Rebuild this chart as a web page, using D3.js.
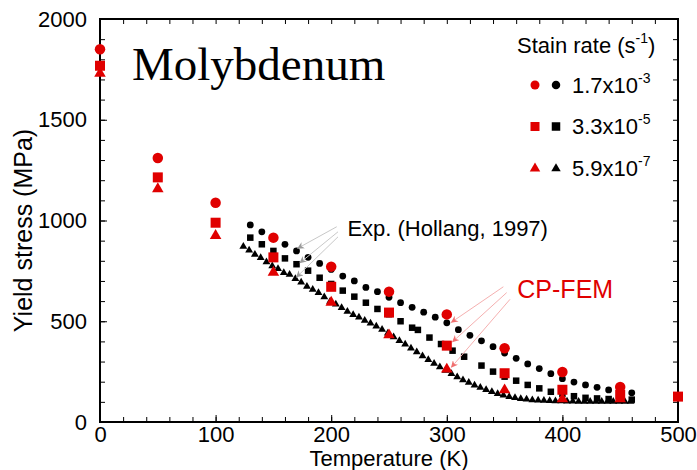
<!DOCTYPE html>
<html>
<head>
<meta charset="utf-8">
<script src="https://cdn.jsdelivr.net/npm/d3@7/dist/d3.min.js"></script>
<style>
  html, body { margin: 0; padding: 0; background: #fff; }
  svg { display: block; font-family: "Liberation Sans", Arial, sans-serif; }
</style>
</head>
<body>
<svg id="chart" width="697" height="470"></svg>
<script>
// ---- Data -------------------------------------------------------------
// CP-FEM simulation (red), temperatures in K, yield stress in MPa
const simTemps   = [0, 50, 100, 150, 200, 250, 300, 350, 400, 450, 500];
const simCircle  = [1850, 1310, 1088, 915, 771, 647, 534, 366, 248, 174, null];
const simSquare  = [1768, 1214, 989, 817, 671, 543, 379, 242, 160, 135, 126];
const simTri     = [1733, 1160, 928, 746, 597, 435, 265, 162, 118, 118, null];

// Experiments (black), strain rate 1.7e-3
const expCircleT = [130, 140, 150, 160, 170, 180, 190, 200, 210, 220, 230, 240, 250, 260, 270, 280, 290, 300,
                    310, 320, 330, 340, 350, 360, 370, 380, 390, 400, 410, 420, 430, 440, 450, 460];
const expCircleV = [978, 944, 912, 882, 849, 817, 787, 757, 724, 700, 668, 647, 619, 592, 569, 545, 520, 492,
                    458, 430, 403, 374, 342, 316, 288, 265, 240, 215, 198, 184, 172, 159, 152, 145];

// Experiments, strain rate 3.3e-5
const expSquareT = [130, 140, 150, 160, 170, 180, 190, 200, 210, 220, 230, 240, 250, 260, 270, 275, 285, 295,
                    305, 315, 330, 340, 350, 360, 370, 380, 390, 400, 410, 420, 430, 440, 450, 460];
const expSquareV = [915, 882, 849, 812, 783, 751, 716, 685, 652, 622, 592, 561, 535, 500, 468, 457, 419, 387,
                    354, 324, 280, 250, 225, 205, 184, 167, 150, 140, 128, 120, 117, 114, 112, 111];

// Experiments, strain rate 5.9e-7
const expTriT = [124, 129, 134, 139, 144, 149, 154, 159, 164, 169, 174, 179, 184, 189, 194, 199, 204, 209, 214,
                 219, 224, 229, 234, 239, 244, 249, 254, 259, 264, 269, 274, 279, 284, 289, 294, 299, 304, 309,
                 314, 319, 324, 329, 334, 339, 344, 349, 354, 359, 364, 369, 374, 379, 384, 389, 394, 399, 404,
                 409, 414, 419, 424, 429, 434, 439, 444, 449, 454, 459];
const expTriV = [873, 854, 834, 817, 796, 776, 763, 743, 734, 713, 696, 675, 660, 644, 622, 600, 586, 569, 551,
                 534, 522, 506, 492, 478, 461, 443, 424, 406, 388, 368, 350, 330, 311, 292, 275, 258, 242, 226,
                 211, 198, 185, 173, 162, 152, 143, 135, 128, 122, 118, 115, 112, 110, 109, 108, 107, 106, 105,
                 105, 104, 104, 104, 104, 104, 104, 104, 104, 104, 104];

// Axis ticks
const xMajorTicks = [0, 100, 200, 300, 400, 500];
const yMajorTicks = [0, 500, 1000, 1500, 2000];

// Legend entries
const legendRates = [
  { base: "1.7x10", exp: "-3", shape: "circle" },
  { base: "3.3x10", exp: "-5", shape: "square" },
  { base: "5.9x10", exp: "-7", shape: "triangle" }
];

// Annotation callouts (data units: K, MPa)
const expLabel = { t: 214, v: 923, text: "Exp. (Hollang, 1997)" };
const expArrows = [
  { from: [204.8, 969], to: [171, 862] },
  { from: [205.9, 944], to: [173, 790] },
  { from: [205.9, 919], to: [170, 719] }
];
const cpLabel = { t: 361, v: 614, text: "CP-FEM" };
const cpArrows = [
  { from: [348.9, 671], to: [304, 495] },
  { from: [351.8, 642], to: [305, 398] },
  { from: [354.7, 609], to: [304, 272] }
];

// ---- Layout ----------------------------------------------------------
const RED = "#e00000";
const SANS = "'Liberation Sans', Arial, sans-serif";
const SERIF = "'Liberation Serif', 'Times New Roman', serif";
const svg = d3.select("#chart");
const x = d3.scaleLinear().domain([0, 500]).range([100, 678]);
const y = d3.scaleLinear().domain([0, 2000]).range([422, 19]);

// ---- Axes (ticks pointing inward on all four sides) -----------------
const xMinor = d3.range(0, 501, 20);
const yMinor = d3.range(0, 2001, 100);

function styleAxis(g) {
  g.attr("font-family", null).attr("font-size", null);
  g.select(".domain").remove();
  g.selectAll(".tick line").attr("stroke", "#000").attr("stroke-width", 1);
  g.selectAll(".tick text").attr("fill", "#000")
    .style("font-size", "22px").style("font-family", SANS);
}

// bottom
svg.append("g").attr("transform", `translate(0,${y(0)})`)
  .call(d3.axisBottom(x).tickValues(xMinor).tickSize(-5).tickFormat(""))
  .call(styleAxis);
svg.append("g").attr("transform", `translate(0,${y(0)})`)
  .call(d3.axisBottom(x).tickValues(xMajorTicks).tickSize(-7).tickPadding(4).tickFormat(d3.format("d")))
  .call(styleAxis);
// top
svg.append("g").attr("transform", `translate(0,${y(2000)})`)
  .call(d3.axisTop(x).tickValues(xMinor).tickSize(-5).tickFormat(""))
  .call(styleAxis);
// left
svg.append("g").attr("transform", `translate(${x(0)},0)`)
  .call(d3.axisLeft(y).tickValues(yMinor).tickSize(-5).tickFormat(""))
  .call(styleAxis);
svg.append("g").attr("transform", `translate(${x(0)},0)`)
  .call(d3.axisLeft(y).tickValues(yMajorTicks).tickSize(-7).tickPadding(13).tickFormat(d3.format("d")))
  .call(styleAxis);
// right
svg.append("g").attr("transform", `translate(${x(500)},0)`)
  .call(d3.axisRight(y).tickValues(yMinor).tickSize(-5).tickFormat(""))
  .call(styleAxis);

// frame
svg.append("rect")
  .attr("x", x(0)).attr("y", y(2000))
  .attr("width", x(500) - x(0)).attr("height", y(0) - y(2000))
  .attr("fill", "none").attr("stroke", "#000").attr("stroke-width", 2);

// axis titles
svg.append("text")
  .attr("x", (x(0) + x(500)) / 2).attr("y", 466)
  .attr("text-anchor", "middle").style("font-size", "22px")
  .text("Temperature (K)");
svg.append("text")
  .attr("transform", `translate(32,${(y(0) + y(2000)) / 2 + 10}) rotate(-90)`)
  .attr("text-anchor", "middle").style("font-size", "25px")
  .text("Yield stress (MPa)");

// ---- Marker drawing ----------------------------------------------------
function drawShape(g, shape, cx, cy, size, color) {
  if (shape === "circle") {
    g.append("circle").attr("cx", cx).attr("cy", cy).attr("r", size / 2).attr("fill", color);
  } else if (shape === "square") {
    g.append("rect").attr("x", cx - size / 2).attr("y", cy - size / 2)
      .attr("width", size).attr("height", size).attr("fill", color);
  } else {
    const h = size * 0.9, w = size * 1.05;
    g.append("path")
      .attr("d", `M${cx},${cy - h * 0.6}L${cx + w / 2},${cy + h * 0.4}L${cx - w / 2},${cy + h * 0.4}Z`)
      .attr("fill", color);
  }
}

function drawSeries(ts, vs, shape, size, color) {
  const g = svg.append("g");
  ts.forEach((t, i) => {
    if (vs[i] == null) return;
    drawShape(g, shape, x(t), y(vs[i]), size, color);
  });
}

// experiments underneath
drawSeries(expTriT, expTriV, "triangle", 7.5, "#000");
drawSeries(expSquareT, expSquareV, "square", 6.5, "#000");
drawSeries(expCircleT, expCircleV, "circle", 6.8, "#000");

// ---- Annotation callouts ----------------------------------------------
const defs = svg.append("defs");
function arrowMarker(id, color) {
  defs.append("marker").attr("id", id)
    .attr("viewBox", "0 0 10 10").attr("refX", 9).attr("refY", 5)
    .attr("markerWidth", 7).attr("markerHeight", 7).attr("orient", "auto")
    .attr("markerUnits", "userSpaceOnUse")
    .append("path").attr("d", "M0,0L10,5L0,10L3,5Z").attr("fill", color);
}
arrowMarker("arrGray", "#9a9a9a");
arrowMarker("arrRed", "#f07070");

function drawArrows(list, stroke, markerId) {
  svg.append("g").selectAll("line").data(list).join("line")
    .attr("x1", d => x(d.from[0])).attr("y1", d => y(d.from[1]))
    .attr("x2", d => x(d.to[0])).attr("y2", d => y(d.to[1]))
    .attr("stroke", stroke).attr("stroke-width", 1)
    .attr("marker-end", `url(#${markerId})`);
}
drawArrows(expArrows, "#c8c8c8", "arrGray");
drawArrows(cpArrows, "#f5b0b0", "arrRed");

svg.append("text").attr("x", x(expLabel.t)).attr("y", y(expLabel.v))
  .style("font-size", "22px").attr("fill", "#000").text(expLabel.text);
svg.append("text").attr("x", x(cpLabel.t)).attr("y", y(cpLabel.v))
  .style("font-size", "25px").attr("fill", RED).text(cpLabel.text);

// simulation on top
drawSeries(simTemps, simTri, "triangle", 11, RED);
drawSeries(simTemps, simSquare, "square", 10, RED);
drawSeries(simTemps, simCircle, "circle", 10.5, RED);

// ---- Title ---------------------------------------------------------------
svg.append("text").attr("x", 132).attr("y", 80)
  .style("font-family", SERIF)
  .style("font-size", "47px").attr("fill", "#000").text("Molybdenum");

// ---- Legend --------------------------------------------------------------
const lg = svg.append("g");
const head = lg.append("text").attr("x", 517).attr("y", 53).style("font-size", "22px");
head.append("tspan").text("Stain rate (s");
head.append("tspan").style("font-size", "14px").attr("dy", -10).text("-1");
head.append("tspan").attr("dy", 10).text(")");

legendRates.forEach((r, i) => {
  const cy = 85 + i * 41.5;
  drawShape(lg, r.shape, 535, cy, r.shape === "triangle" ? 10 : 9, RED);
  drawShape(lg, r.shape, 556, cy, r.shape === "triangle" ? 9 : 8.5, "#000");
  const t = lg.append("text").attr("x", 572).attr("y", cy + 7.5).style("font-size", "22px");
  t.append("tspan").text(r.base);
  t.append("tspan").style("font-size", "14px").attr("dy", -10).text(r.exp);
});
</script>
</body>
</html>
